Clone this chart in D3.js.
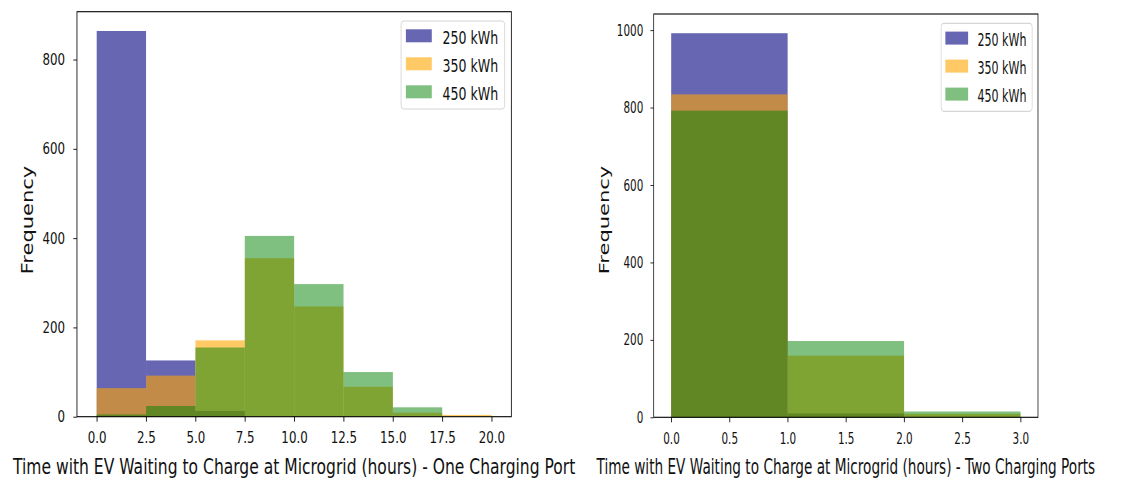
<!DOCTYPE html>
<html>
<head>
<meta charset="utf-8">
<script src="https://cdn.jsdelivr.net/npm/d3@7"></script>
<style>
  html, body { margin: 0; padding: 0; background: #fff; }
  svg { display: block; }
  text { font-family: "DejaVu Sans", sans-serif; fill: #111; }
</style>
</head>
<body>
<svg id="chart" width="1143" height="482"></svg>
<script>
// Waiting-time histograms for three battery sizes, one vs two charging ports.
const seriesNames = ["250 kWh", "350 kWh", "450 kWh"];
const seriesColors = ["#000080", "#FFA500", "#008000"];
const seriesAlpha = [0.6, 0.6, 0.5];

// One charging port: bins of 2.5 h from 0 to 20 h
const binEdgesOne = [0, 2.5, 5, 7.5, 10, 12.5, 15, 17.5, 20];
const counts250One = [864, 126, 13, 0, 0, 0, 0, 0];
const counts350One = [64, 92, 171, 355, 247, 67, 9, 4];
const counts450One = [5, 24, 155, 405, 297, 100, 21, 0];
const xTicksOne = [0, 2.5, 5, 7.5, 10, 12.5, 15, 17.5, 20];
const yTicksOne = [0, 200, 400, 600, 800];

// Two charging ports: bins of 1 h from 0 to 3 h
const binEdgesTwo = [0, 1, 2, 3];
const counts250Two = [992, 10, 0];
const counts350Two = [834, 159, 9];
const counts450Two = [792, 197, 15];
const xTicksTwo = [0, 0.5, 1, 1.5, 2, 2.5, 3];
const yTicksTwo = [0, 200, 400, 600, 800, 1000];

const xLabelOne = "Time with EV Waiting to Charge at Microgrid (hours) - One Charging Port";
const xLabelTwo = "Time with EV Waiting to Charge at Microgrid (hours) - Two Charging Ports";
const yLabel = "Frequency";

const panels = [
  { ox: 0,   sx: 0.74, left: 104,   right: 691,   top: 11.7, bottom: 416.7, yLabelX: 45,
    edges: binEdgesOne, counts: [counts250One, counts350One, counts450One],
    xTicks: xTicksOne, yTicks: yTicksOne, xLabel: xLabelOne },
  { ox: 580, sx: 0.65, left: 113.4, right: 704.6, top: 14,   bottom: 417.3, yLabelX: 44,
    edges: binEdgesTwo, counts: [counts250Two, counts350Two, counts450Two],
    xTicks: xTicksTwo, yTicks: yTicksTwo, xLabel: xLabelTwo }
];

const svg = d3.select("#chart");
svg.append("rect").attr("width", 1143).attr("height", 482).attr("fill", "#fff");

panels.forEach(p => {
  const g = svg.append("g").attr("transform", `translate(${p.ox},0) scale(${p.sx},1)`);

  const lo = p.edges[0], hi = p.edges[p.edges.length - 1];
  const pad = 0.05 * (hi - lo);
  const maxCount = d3.max(p.counts.flat());

  const x = d3.scaleLinear().domain([lo - pad, hi + pad]).range([p.left, p.right]);
  const y = d3.scaleLinear().domain([0, maxCount * 1.05]).range([p.bottom, p.top]);

  // bars, one layer per battery size
  p.counts.forEach((vals, si) => {
    const bins = vals.map((v, i) => ({ x0: p.edges[i], x1: p.edges[i + 1], v }));
    g.append("g")
      .selectAll("rect")
      .data(bins.filter(b => b.v > 0))
      .join("rect")
      .attr("x", d => x(d.x0))
      .attr("width", d => x(d.x1) - x(d.x0))
      .attr("y", d => y(d.v))
      .attr("height", d => y(0) - y(d.v))
      .attr("fill", seriesColors[si])
      .attr("fill-opacity", seriesAlpha[si]);
  });

  // axes
  const xAxis = g.append("g")
    .attr("transform", `translate(0,${p.bottom})`)
    .call(d3.axisBottom(x).tickValues(p.xTicks).tickFormat(d3.format(".1f"))
      .tickSize(5).tickSizeOuter(0).tickPadding(10));
  const yAxis = g.append("g")
    .attr("transform", `translate(${p.left},0)`)
    .call(d3.axisLeft(y).tickValues(p.yTicks).tickFormat(d3.format("d"))
      .tickSize(5).tickSizeOuter(0).tickPadding(11));
  [xAxis, yAxis].forEach(a => {
    a.select(".domain").remove();
    a.selectAll(".tick line").attr("stroke", "#000").attr("stroke-width", 1);
    a.selectAll(".tick text").style("font-size", "16px").attr("fill", "#111")
      .style("font-family", "'DejaVu Sans', sans-serif");
  });

  // frame
  g.append("rect")
    .attr("x", p.left).attr("y", p.top)
    .attr("width", p.right - p.left).attr("height", p.bottom - p.top)
    .attr("fill", "none").attr("stroke", "#000").attr("stroke-width", 1.1);

  // axis labels
  g.append("text")
    .attr("x", (p.left + p.right) / 2).attr("y", 474)
    .attr("text-anchor", "middle").style("font-size", "21px")
    .text(p.xLabel);
  g.append("text")
    .attr("transform", `translate(${p.yLabelX},220) rotate(-90)`)
    .attr("text-anchor", "middle").style("font-size", "21px")
    .text(yLabel);

  // legend
  const boxW = 140, boxH = 88;
  const bx = p.right - 9 - boxW, by = p.top + 9.3;
  const leg = g.append("g").attr("transform", `translate(${bx},${by})`);
  leg.append("rect")
    .attr("width", boxW).attr("height", boxH).attr("rx", 4).attr("ry", 4)
    .attr("fill", "#fff").attr("fill-opacity", 0.8)
    .attr("stroke", "#d6d6d6").attr("stroke-width", 1.2);
  seriesNames.forEach((name, i) => {
    const row = leg.append("g").attr("transform", `translate(0,${8.3 + i * 28})`);
    row.append("rect")
      .attr("x", 6.5).attr("width", 35).attr("height", 13)
      .attr("fill", seriesColors[i]).attr("fill-opacity", seriesAlpha[i]);
    row.append("text")
      .attr("x", 56).attr("y", 14.5)
      .style("font-size", "17px")
      .text(name);
  });
});
</script>
</body>
</html>
